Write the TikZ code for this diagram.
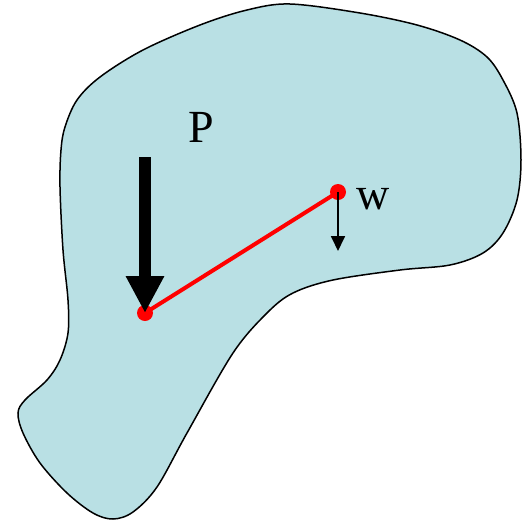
\documentclass[tikz,border=0pt]{standalone}
\usepackage{fontspec}
\setmainfont{Liberation Serif}
\usepackage{tikz}
\usetikzlibrary{arrows.meta}
\definecolor{bodyfill}{RGB}{185,224,228}
\definecolor{ptred}{RGB}{255,0,0}
\tikzset{
  ptdot/.style={circle,fill=ptred,inner sep=0pt,minimum size=16pt},
  lbl/.style={font=\fontsize{46}{46}\selectfont,inner sep=0pt},
}

\begin{document}
\begin{tikzpicture}[x=1pt,y=-1pt]
\useasboundingbox (0,0) rectangle (526,528);
% body outline
\draw[fill=bodyfill,line width=1.5pt] plot[smooth cycle,tension=0.55] coordinates {
  (290,4) (247,10) (200,25) (143,50) (100,77) (77,100) (65,127) (61,150)
  (60,187) (63,250) (68,300) (68,333) (60,360) (47,380) (25,400) (18,413)
  (23,433) (40,463) (67,493) (93,513) (113,519) (133,512) (157,487)
  (187,433) (233,353) (267,313) (293,293) (333,280) (400,270) (450,265)
  (483,253) (503,233) (517,200) (521,160) (517,113) (503,80) (487,57)
  (460,40) (417,25) (360,13)};
% points and lever
\node[ptdot] (pa) at (145,313) {};
\node[ptdot] (pb) at (338,192) {};
\draw[ptred,line width=4pt] (pa.center) -- (pb.center);
% loads
\coordinate (ptop) at (145,157);
\draw[line width=12pt,-{Triangle[length=37pt,width=36pt]}] (ptop) -- (pa.center);
\coordinate (wend) at (338,251);
\draw[line width=1.8pt,-{Triangle[length=15pt,width=14pt]}] (pb.center) -- (wend);
\node[lbl] (plbl) at (201,127) {P};
\node[lbl] (wlbl) at (373,199) {w};
\end{tikzpicture}
\end{document}
